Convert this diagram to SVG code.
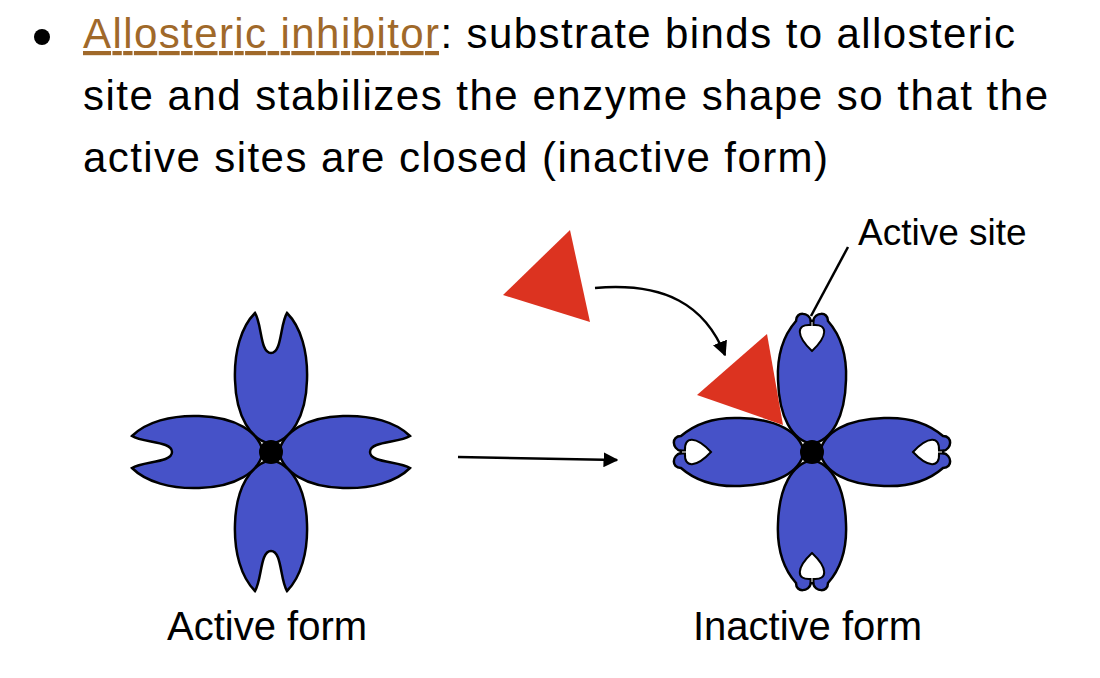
<svg xmlns="http://www.w3.org/2000/svg" width="1100" height="678" viewBox="0 0 1100 678">
<style>
.t{font-family:"Liberation Sans",Arial,sans-serif;fill:#000}
.lobe{fill:#4652C8;stroke:#000;stroke-width:2.5}
.pocket{fill:#fff;stroke:#000;stroke-width:2}
.tri{fill:#DC3320}
.ln{fill:none;stroke:#000;stroke-width:2.5}
</style>
<defs>
<marker id="ah" viewBox="0 0 10 10" refX="9" refY="5" markerWidth="6" markerHeight="6" orient="auto"><path d="M0 0L10 5L0 10z" fill="#000"/></marker>
<path id="alobe" class="lobe" d="M-16 -139 C-30 -125,-37 -100,-36 -72 C-35 -35,-20 -12,0 -8 C20 -12,35 -35,36 -72 C37 -100,30 -125,16 -139 C9 -128,11 -99,0 -99 C-11 -99,-9 -128,-16 -139 Z"/>
<g id="ilobe"><path class="lobe" d="M-1 -131 C-3 -140,-16 -141,-16 -131 C-30 -115,-35 -95,-34 -72 C-33 -35,-20 -12,0 -8 C20 -12,33 -35,34 -72 C35 -95,30 -115,16 -131 C16 -141,3 -140,1 -131 Z"/>
<path class="pocket" d="M-1.5 -131 L-1.5 -127 C-16 -128,-16 -116,0 -101 C16 -116,16 -128,1.5 -127 L1.5 -131 Z"/></g>
</defs>
<circle cx="42" cy="37" r="8" fill="#000"/>
<text class="t" font-size="42" x="83" y="48" textLength="932" lengthAdjust="spacing"><tspan fill="#A0692A" text-decoration="underline">Allosteric inhibitor</tspan>: substrate binds to allosteric</text>
<text class="t" font-size="42" x="83" y="110" textLength="965" lengthAdjust="spacing">site and stabilizes the enzyme shape so that the</text>
<text class="t" font-size="42" x="83" y="172" textLength="745" lengthAdjust="spacing">active sites are closed (inactive form)</text>
<g id="active-enzyme" transform="translate(271 452)">
<use href="#alobe"/><use href="#alobe" transform="rotate(90)"/><use href="#alobe" transform="rotate(180)"/><use href="#alobe" transform="rotate(270)"/>
<circle r="12" fill="#000"/>
</g>
<g id="inactive-enzyme" transform="translate(812 452)">
<use href="#ilobe"/><use href="#ilobe" transform="rotate(90)"/><use href="#ilobe" transform="rotate(180)"/><use href="#ilobe" transform="rotate(270)"/>
<circle r="12" fill="#000"/>
</g>
<g id="inhibitor-free"><polygon class="tri" points="503,295 570,230 590,322"/></g>
<g id="inhibitor-bound"><polygon class="tri" points="697,395 767,334 783,425"/></g>
<g id="connectors">
<path class="ln" d="M595 288 C665 282,705 305,725 355" marker-end="url(#ah)"/>
<path class="ln" d="M458 457 L617 460" marker-end="url(#ah)"/>
<path class="ln" stroke-width="2" d="M848 247 L811 316"/>
</g>
<text class="t" font-size="37" x="858" y="245">Active site</text>
<text class="t" font-size="40" x="167" y="640">Active form</text>
<text class="t" font-size="40" x="693" y="640">Inactive form</text>
</svg>
